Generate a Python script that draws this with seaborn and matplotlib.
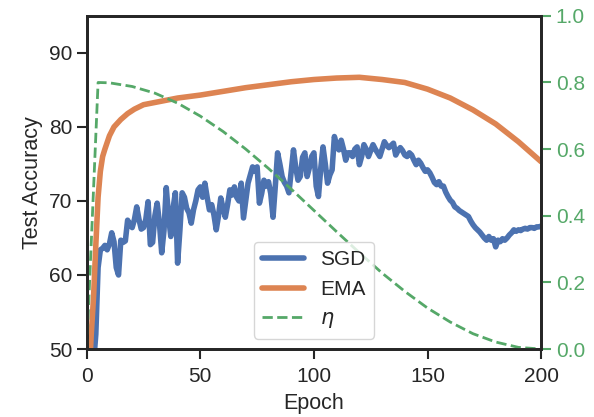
import numpy as np
import matplotlib
matplotlib.use("Agg")
import matplotlib.pyplot as plt
import seaborn as sns

# SGD test accuracy, one value per epoch (epochs 1..200)
sgd_acc = [
    42.0, 45.0, 48.0, 52.0, 61.0, 63.4, 63.6, 64.0, 63.4, 64.2,
    65.7, 64.5, 61.0, 60.0, 64.7, 64.4, 64.6, 67.4, 66.8, 66.4,
    67.5, 69.2, 67.5, 66.2, 66.4, 67.5, 69.9, 64.1, 64.4, 68.0,
    69.7, 67.0, 63.0, 66.0, 71.8, 68.0, 65.2, 69.0, 71.1, 61.6,
    66.0, 71.1, 70.5, 69.0, 68.4, 67.0, 68.8, 70.0, 71.5, 71.9,
    70.5, 72.4, 70.5, 68.8, 69.5, 68.1, 66.1, 68.0, 70.4, 69.0,
    67.8, 69.5, 71.5, 70.8, 71.9, 70.5, 70.0, 72.4, 67.7, 70.0,
    72.4, 73.5, 74.6, 74.0, 74.6, 69.7, 71.0, 72.8, 72.0, 72.6,
    71.0, 67.8, 72.0, 76.5, 75.0, 73.3, 72.5, 72.0, 71.1, 74.0,
    76.9, 74.5, 72.8, 73.3, 75.9, 76.5, 73.3, 74.5, 76.0, 76.5,
    72.0, 70.6, 74.4, 77.3, 75.0, 72.4, 73.5, 74.2, 78.7, 77.5,
    76.9, 78.2, 77.0, 75.5, 76.5, 76.5, 76.0, 77.0, 77.3, 74.9,
    76.0, 77.6, 77.0, 76.0, 76.8, 77.6, 77.0, 76.5, 76.0, 77.0,
    78.0, 77.5, 77.2, 77.5, 77.8, 76.2, 76.8, 77.2, 76.8, 76.2,
    76.0, 76.5, 76.2, 75.5, 74.9, 75.5, 75.1, 74.5, 74.0, 74.2,
    73.8, 73.2, 72.5, 72.2, 72.6, 72.0, 72.0, 71.2, 70.6, 70.1,
    69.8, 69.2, 69.0, 68.7, 68.5, 68.3, 68.1, 67.9, 67.3, 66.8,
    66.4, 66.1, 65.8, 65.4, 65.0, 64.7, 65.2, 64.7, 64.9, 63.8,
    64.7, 64.5, 64.9, 64.7, 65.0, 65.4, 65.7, 66.1, 65.9, 66.1,
    66.0, 66.2, 66.3, 66.2, 66.4, 66.4, 66.3, 66.5, 66.5, 66.6,
]
sgd_epochs = list(range(1, 201))

# EMA test accuracy
ema_epochs = [1, 2, 3, 4, 5, 6, 7, 8, 10, 12, 15, 18, 21, 25, 30, 35, 40, 45,
              50, 60, 70, 80, 90, 100, 110, 120, 130, 140, 150, 160, 170, 180,
              190, 200]
ema_acc = [46.0, 52.0, 57.0, 64.0, 70.5, 74.0, 76.0, 77.0, 78.8, 80.0, 81.0,
           81.8, 82.4, 83.0, 83.3, 83.6, 83.9, 84.1, 84.3, 84.8, 85.3, 85.7,
           86.1, 86.4, 86.6, 86.7, 86.4, 86.0, 85.1, 83.9, 82.3, 80.4, 78.0,
           75.3]

# learning rate (right axis)
eta_epochs = [0, 5, 10, 20, 30, 40, 50, 60, 70, 80, 90, 100, 110, 120, 130,
              140, 150, 160, 170, 180, 190, 200]
eta = [0.0, 0.80, 0.799, 0.788, 0.768, 0.738, 0.699, 0.653, 0.600, 0.542,
       0.480, 0.416, 0.352, 0.289, 0.228, 0.173, 0.123, 0.081, 0.046, 0.021,
       0.005, 0.0]

sns.set_theme(style="ticks")
plt.rcParams["font.family"] = ["Liberation Sans", "DejaVu Sans"]

pal = sns.color_palette("deep")
blue, orange, green = pal[0], pal[1], pal[2]
fs = 15

fig = plt.figure(figsize=(5.94, 4.17), dpi=100)
ax = fig.add_axes([0.146, 0.163, 0.765, 0.799])

sns.lineplot(x=sgd_epochs, y=sgd_acc, ax=ax, color=blue, lw=4, label="SGD",
             legend=False)
sns.lineplot(x=ema_epochs, y=ema_acc, ax=ax, color=orange, lw=4, label="EMA",
             legend=False)
ax.set_xlim(0, 200)
ax.set_ylim(50, 95)
ax.set_yticks([50, 60, 70, 80, 90])
ax.set_xticks([0, 50, 100, 150, 200])
ax.set_xlabel("Epoch", fontsize=fs + 0.5, labelpad=5)
ax.set_ylabel("Test Accuracy", fontsize=fs + 0.5)
ax.tick_params(labelsize=fs, length=7, width=1.5)
ax.tick_params(axis="x", pad=6)

ax2 = ax.twinx()
sns.lineplot(x=eta_epochs, y=eta, ax=ax2, color=green, lw=2, ls="--",
             label=r"$\eta$", legend=False)
ax2.set_ylim(0, 1.0)
ax2.set_yticks([0.0, 0.2, 0.4, 0.6, 0.8, 1.0])
ax2.tick_params(axis="y", colors=green, labelsize=fs, length=7, width=1.5)

for a in (ax, ax2):
    for s in a.spines.values():
        s.set_linewidth(2)
        s.set_color("#262626")

h1, l1 = ax.get_legend_handles_labels()
h2, l2 = ax2.get_legend_handles_labels()
ax2.legend(h1 + h2, l1 + l2, loc="lower center", fontsize=fs)

fig.savefig("out.png", dpi=100)
